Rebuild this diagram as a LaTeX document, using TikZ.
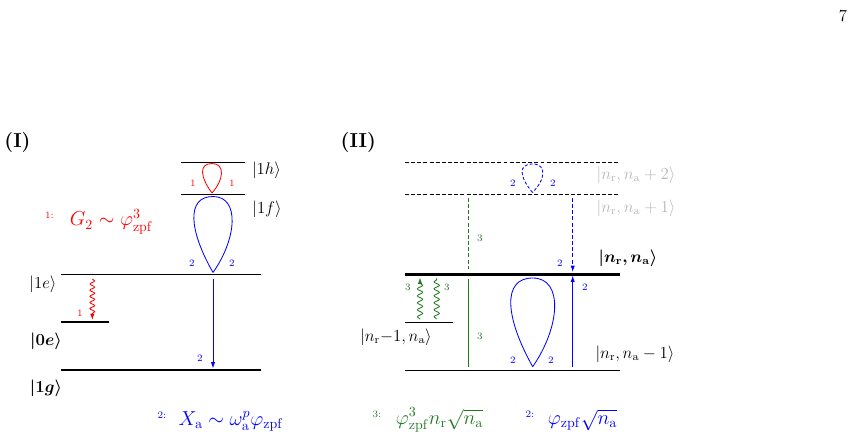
\documentclass[tikz,border=0pt]{standalone}
\usepackage{amsmath,bm}
\usetikzlibrary{arrows.meta,decorations.pathmorphing}
\definecolor{dgreen}{rgb}{0.13,0.47,0.13}
\definecolor{lgray}{gray}{0.72}
\tikzset{
  lvl/.style={line width=0.6pt},
  lvlthick/.style={line width=1.8pt},
  lvldash/.style={line width=0.6pt, dash pattern=on 2.8pt off 1.6pt},
  arrtip/.style={-{Latex[length=4.5pt,width=3pt]}},
  small/.style={font=\scriptsize, inner sep=0pt},
  lab/.style={inner sep=0pt},
  legend/.style={inner sep=0pt, font=\Large},
  title/.style={inner sep=0pt, font=\Large\bfseries},
  wavy/.style={decorate, decoration={snake, segment length=4.4pt, amplitude=1.7pt, post length=3.5pt}},
  conn/.style={line width=0.6pt},
}
\begin{document}
\begin{tikzpicture}[x=0.714286pt, y=-0.714286pt, font=\large]
\useasboundingbox (0,0) rectangle (857,439);
\node[lab, font=\large] (pg) at (843,16) {7};

% ---------------- Panel I ----------------
\node[title] (t1) at (17.5,142) {(I)};
\coordinate (h1L) at (181,162.5); \coordinate (h1R) at (245,162.5);
\coordinate (f1L) at (181,194.7); \coordinate (f1R) at (245,194.7);
\coordinate (e1L) at (61,274.3);  \coordinate (e1R) at (261,274.3);
\coordinate (e0L) at (61,322);    \coordinate (e0R) at (108.5,322);
\coordinate (g1L) at (61,370);    \coordinate (g1R) at (261,370);
\draw[lvl] (h1L) -- (h1R);
\draw[lvl] (f1L) -- (f1R);
\draw[lvl] (e1L) -- (e1R);
\draw[lvlthick] (e0L) -- (e0R);
\draw[lvlthick] (g1L) -- (g1R);
\node[lab] (lh) at (266.5,170) {$|1h\rangle$};
\node[lab] (lf) at (267,209) {$|1f\rangle$};
\node[lab] (le) at (43,284) {$|1e\rangle$};
\node[lab] (lze) at (46,341) {$\bm{|0e\rangle}$};
\node[lab] (log) at (46,388) {$\bm{|1g\rangle}$};

% red loop on |1f>
\coordinate (rtip) at (212,193);
\draw[red, conn] (rtip) .. controls +(-11.9,-16) and +(-13.3,0) .. ++(0,-29.5)
                        .. controls +(13.3,0) and +(11.9,-13.5) .. (rtip);
\node[small, red] (r1a) at (193,183) {1};
\node[small, red] (r1b) at (232,183) {1};

% blue loop on |1e>
\coordinate (btip) at (213,272.5);
\draw[blue, conn] (btip) .. controls +(-24,-42) and +(-27,0) .. ++(0,-76)
                        .. controls +(27,0) and +(24,-34) .. (btip);
\node[small, blue] (b2a) at (192,263) {2};
\node[small, blue] (b2b) at (232,263) {2};

% blue decay |1e> -> |1g>
\coordinate (bs) at (213,279); \coordinate (be) at (213,368.5);
\draw[blue, conn, arrtip] (bs) -- (be);
\node[small, blue] (b2c) at (200,358) {2};

% red wavy |1e> -> |0e>
\coordinate (rs) at (92.3,279); \coordinate (re) at (92.3,320);
\draw[red, conn, arrtip, wavy] (rs) -- (re);
\node[small, red] (r1c) at (80,313) {1};

% legends panel I
\node[small, red] (k1) at (49.5,215) {1:};
\node[legend, red] (g2) at (111.5,222) {$G_2\sim\varphi_{\mathrm{zpf}}^3$};
\node[small, blue] (k2) at (162,415) {2:};
\node[legend, blue] (xa) at (231,421) {$X_{\mathrm{a}}\sim\omega_{\mathrm{a}}^{p}\varphi_{\mathrm{zpf}}$};

% ---------------- Panel II ----------------
\node[title] (t2) at (358.3,142) {(II)};
\coordinate (p2L) at (405,162.5); \coordinate (p2R) at (619.5,162.5);
\coordinate (p1L) at (405,194.7); \coordinate (p1R) at (619.5,194.7);
\coordinate (n0L) at (405,274.3); \coordinate (n0R) at (619.5,274.3);
\coordinate (mrL) at (405,322.5); \coordinate (mrR) at (452.5,322.5);
\coordinate (maL) at (405,370);   \coordinate (maR) at (619.5,370);
\draw[lvldash] (p2L) -- (p2R);
\draw[lvldash] (p1L) -- (p1R);
\draw[lvlthick] (n0L) -- (n0R);
\draw[lvl] (mrL) -- (mrR);
\draw[lvl] (maL) -- (maR);
\node[lab, text=lgray] (lp2) at (636,175) {$|n_{\mathrm{r}},n_{\mathrm{a}}+2\rangle$};
\node[lab, text=lgray] (lp1) at (636,208) {$|n_{\mathrm{r}},n_{\mathrm{a}}+1\rangle$};
\node[lab] (ln0) at (628,258) {$\bm{|n_{\mathrm{r}},n_{\mathrm{a}}\rangle}$};
\node[lab] (lmr) at (396,337) {$|n_{\mathrm{r}}{-}1,n_{\mathrm{a}}\rangle$};
\node[lab] (lma) at (635,354) {$|n_{\mathrm{r}},n_{\mathrm{a}}-1\rangle$};

% blue dashed loop on |n_a+1>
\coordinate (dtip) at (532.5,192.5);
\draw[blue, conn, dash pattern=on 2.2pt off 1.4pt] (dtip) .. controls +(-13,-15.5) and +(-14.7,0) .. ++(0,-28.5)
                        .. controls +(14.7,0) and +(13,-13) .. (dtip);
\node[small, blue] (d2a) at (513,183) {2};
\node[small, blue] (d2b) at (553,183) {2};

% green dashed
\coordinate (gds) at (468.5,198); \coordinate (gde) at (468.5,268.5);
\draw[dgreen, lvldash] (gds) -- (gde);
\node[small, dgreen] (g3a) at (480,238) {3};

% blue dashed arrow
\coordinate (bds) at (572.7,198); \coordinate (bde) at (572.7,272);
\draw[blue, conn, arrtip, dash pattern=on 2.8pt off 1.6pt] (bds) -- (bde);
\node[small, blue] (d2c) at (560,263) {2};

% green wavy
\coordinate (w1s) at (420,319); \coordinate (w1e) at (420,277.5);
\coordinate (w2s) at (436.7,319); \coordinate (w2e) at (436.7,278);
\draw[dgreen, conn, arrtip, decorate, decoration={snake, segment length=5pt, amplitude=1.9pt, post length=3.5pt}] (w1s) -- (w1e);
\draw[dgreen, conn, decorate, decoration={snake, segment length=5pt, amplitude=1.9pt}] (w2s) -- (w2e);
\node[small, dgreen] (g3b) at (408,287) {3};
\node[small, dgreen] (g3c) at (447,287) {3};

% green solid
\coordinate (gss) at (468.5,278.5); \coordinate (gse) at (468.5,366.7);
\draw[dgreen, line width=0.8pt] (gss) -- (gse);
\node[small, dgreen] (g3d) at (480,336) {3};

% big blue loop on |n_a-1>
\coordinate (Btip) at (532.7,366.7);
\draw[blue, conn] (Btip) .. controls +(-27.5,-49) and +(-31,0) .. ++(0,-88.7)
                        .. controls +(31,0) and +(27.5,-39.7) .. (Btip);
\node[small, blue] (B2a) at (513,360) {2};
\node[small, blue] (B2b) at (551,360) {2};

% blue solid arrow up
\coordinate (bus) at (572.7,366.7); \coordinate (bue) at (572.7,275.5);
\draw[blue, conn, arrtip] (bus) -- (bue);
\node[small, blue] (u2) at (585,287) {2};

% legends panel II
\node[small, dgreen] (k3) at (377,414) {3:};
\node[legend, dgreen] (fa) at (439.5,420) {$\varphi_{\mathrm{zpf}}^3 n_{\mathrm{r}}\sqrt{n_{\mathrm{a}}}$};
\node[small, blue] (k4) at (530,414) {2:};
\node[legend, blue] (fb) at (582.5,420) {$\varphi_{\mathrm{zpf}}\sqrt{n_{\mathrm{a}}}$};
\end{tikzpicture}
\end{document}
